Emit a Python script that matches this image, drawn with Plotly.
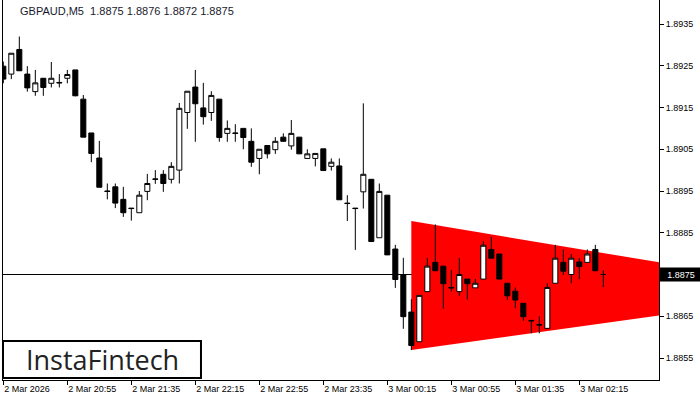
import plotly.graph_objects as go

SYMBOL = "GBPAUD,M5"
HEADER_OHLC = ["1.8875", "1.8876", "1.8872", "1.8875"]
CURRENT_PRICE = 1.8875

# candle OHLC values (5-minute bars, index 0 = 2 Mar 20:15)
OPEN = [1.89249, 1.89230, 1.89289, 1.89230, 1.89188, 1.89220, 1.89208, 1.89210, 1.89220, 1.89240,
        1.89170, 1.89089, 1.89029, 1.88950, 1.88960, 1.88930, 1.88909, 1.88898, 1.88949, 1.88979,
        1.88990, 1.88978, 1.89000, 1.89138, 1.89199, 1.89149, 1.89138, 1.89170, 1.89088, 1.89089,
        1.89100, 1.89069, 1.89028, 1.89059, 1.89049, 1.89079, 1.89058, 1.89079, 1.89028, 1.89028,
        1.89051, 1.89009, 1.89010, 1.88921, 1.88909, 1.88948, 1.88978, 1.88838, 1.88940, 1.88811,
        1.88750, 1.88660, 1.88589, 1.88709, 1.88779, 1.88770, 1.88719, 1.88709, 1.88739, 1.88718,
        1.88739, 1.88810, 1.88799, 1.88729, 1.88710, 1.88681, 1.88640, 1.88630, 1.88621, 1.88729,
        1.88779, 1.88750, 1.88780, 1.88779, 1.88810, 1.88750]
HIGH = [1.89260, 1.89280, 1.89320, 1.89249, 1.89240, 1.89220, 1.89259, 1.89230, 1.89240, 1.89240,
        1.89180, 1.89089, 1.89070, 1.88968, 1.88968, 1.88960, 1.88909, 1.88950, 1.88991, 1.89000,
        1.89000, 1.89019, 1.89161, 1.89189, 1.89240, 1.89209, 1.89189, 1.89170, 1.89119, 1.89110,
        1.89100, 1.89100, 1.89050, 1.89059, 1.89079, 1.89088, 1.89120, 1.89079, 1.89050, 1.89040,
        1.89051, 1.89028, 1.89028, 1.88940, 1.88909, 1.89160, 1.88978, 1.88968, 1.88940, 1.88821,
        1.88790, 1.88691, 1.88700, 1.88790, 1.88870, 1.88770, 1.88761, 1.88790, 1.88739, 1.88739,
        1.88830, 1.88840, 1.88799, 1.88729, 1.88719, 1.88681, 1.88640, 1.88650, 1.88729, 1.88821,
        1.88810, 1.88799, 1.88789, 1.88810, 1.88821, 1.88760]
LOW = [1.89208, 1.89218, 1.89238, 1.89188, 1.89178, 1.89178, 1.89198, 1.89198, 1.89208, 1.89177,
       1.89079, 1.89019, 1.88959, 1.88930, 1.88909, 1.88888, 1.88879, 1.88898, 1.88928, 1.88967,
       1.88948, 1.88968, 1.88968, 1.89099, 1.89068, 1.89109, 1.89118, 1.89068, 1.89068, 1.89068,
       1.89050, 1.89008, 1.88990, 1.89028, 1.89039, 1.89069, 1.89049, 1.89039, 1.89028, 1.89009,
       1.88999, 1.88999, 1.88929, 1.88878, 1.88809, 1.88908, 1.88829, 1.88838, 1.88797, 1.88718,
       1.88620, 1.88569, 1.88589, 1.88709, 1.88759, 1.88668, 1.88709, 1.88699, 1.88690, 1.88718,
       1.88739, 1.88789, 1.88739, 1.88689, 1.88669, 1.88639, 1.88609, 1.88609, 1.88621, 1.88729,
       1.88749, 1.88729, 1.88739, 1.88779, 1.88759, 1.88720]
CLOSE = [1.89218, 1.89280, 1.89238, 1.89197, 1.89209, 1.89198, 1.89220, 1.89209, 1.89229, 1.89178,
         1.89079, 1.89040, 1.88959, 1.88949, 1.88921, 1.88898, 1.88908, 1.88940, 1.88968, 1.88978,
         1.88968, 1.89009, 1.89148, 1.89189, 1.89159, 1.89128, 1.89179, 1.89078, 1.89100, 1.89088,
         1.89078, 1.89019, 1.89050, 1.89039, 1.89069, 1.89069, 1.89088, 1.89039, 1.89039, 1.89040,
         1.88999, 1.89019, 1.88929, 1.88920, 1.88908, 1.88990, 1.88829, 1.88949, 1.88797, 1.88738,
         1.88649, 1.88580, 1.88700, 1.88770, 1.88759, 1.88728, 1.88718, 1.88750, 1.88728, 1.88729,
         1.88820, 1.88789, 1.88739, 1.88699, 1.88689, 1.88649, 1.88639, 1.88629, 1.88719, 1.88789,
         1.88758, 1.88789, 1.88769, 1.88799, 1.88759, 1.88750]

# time-axis labels (every 8th bar)
TICK_IDX = [0, 8, 16, 24, 32, 40, 48, 56, 64, 72]
TICK_TEXT = ["2 Mar 2026", "2 Mar 20:55", "2 Mar 21:35", "2 Mar 22:15", "2 Mar 22:55",
             "2 Mar 23:35", "3 Mar 00:15", "3 Mar 00:55", "3 Mar 01:35", "3 Mar 02:15"]

PRICE_TICKS = [1.8855, 1.8865, 1.8885, 1.8895, 1.8905, 1.8915, 1.8925, 1.8935]

# symmetrical triangle pattern (bar index, upper / lower boundary price)
TRI_X = [51, 82]
TRI_UPPER = [1.88878, 1.88779]
TRI_LOWER = [1.88569, 1.88652]

X_RANGE = [-0.04, 81.96]
Y_RANGE = [1.884973, 1.894075]

FONT = "Liberation Sans"

idx = list(range(len(OPEN)))

fig = go.Figure()

fig.add_trace(go.Candlestick(
    x=idx, open=OPEN, high=HIGH, low=LOW, close=CLOSE,
    increasing=dict(line=dict(color="black", width=1), fillcolor="white"),
    decreasing=dict(line=dict(color="black", width=1), fillcolor="black"),
    whiskerwidth=0, showlegend=False,
))

# triangle pattern, drawn under the candles
tri_path = (f"M {TRI_X[0]},{TRI_UPPER[0]} L {TRI_X[1]},{TRI_UPPER[1]} "
            f"L {TRI_X[1]},{TRI_LOWER[1]} L {TRI_X[0]},{TRI_LOWER[0]} Z")
fig.add_shape(type="path", path=tri_path, xref="x", yref="y",
              fillcolor="#ff0000", line=dict(width=0), layer="below")
# current price line
fig.add_shape(type="line", xref="paper", yref="y", x0=0, x1=1,
              y0=CURRENT_PRICE, y1=CURRENT_PRICE,
              line=dict(color="black", width=1), layer="below")

fig.update_layout(
    width=700, height=400,
    margin=dict(l=3, r=41, t=0, b=20),
    paper_bgcolor="white", plot_bgcolor="white",
    font=dict(family=FONT, size=9, color="black"),
    boxgap=0.1, boxgroupgap=0.3,
    xaxis=dict(
        range=X_RANGE, rangeslider=dict(visible=False),
        showgrid=False, zeroline=False,
        showline=True, linecolor="black", linewidth=1,
        ticks="outside", ticklen=4, tickcolor="black",
        tickvals=TICK_IDX, ticktext=TICK_TEXT,
        ticklabelposition="outside right",
        tickfont=dict(family=FONT, size=9, color="black"),
    ),
    yaxis=dict(
        side="right", range=Y_RANGE,
        showgrid=False, zeroline=False,
        showline=True, mirror=True, linecolor="black", linewidth=1,
        ticks="outside", ticklen=4, tickcolor="black",
        tickvals=PRICE_TICKS, ticktext=[f"{v:.4f}" for v in PRICE_TICKS],
        tickfont=dict(family=FONT, size=9, color="black"),
    ),
)

fig.add_annotation(
    xref="paper", yref="y", x=1, y=CURRENT_PRICE, xanchor="left", yanchor="middle",
    text=f"{CURRENT_PRICE:.4f}", showarrow=False, bgcolor="black",
    font=dict(family=FONT, size=9, color="white"),
    width=40, height=11, align="center",
)

fig.add_annotation(
    xref="paper", yref="paper", x=0.0229, y=0.971, xanchor="left", yanchor="middle",
    text=SYMBOL + "&nbsp;&nbsp;" + " ".join(HEADER_OHLC), showarrow=False,
    font=dict(family=FONT, size=11, color="#1a1a2e"),
)

fig.add_shape(type="rect", xref="paper", yref="paper", x0=0.0, x1=0.3018, y0=0.0053, y1=0.1026,
              line=dict(color="black", width=2), fillcolor="white", layer="above")
fig.add_annotation(
    xref="paper", yref="paper", x=0.151, y=0.054, xanchor="center", yanchor="middle",
    text="InstaFintech", showarrow=False,
    font=dict(family="Open Sans", size=27, color="#222222"),
)

fig.write_html(
    "out.html",
    config={"displayModeBar": False},
    post_script="document.body.style.margin='0';document.body.style.overflow='hidden';",
)
